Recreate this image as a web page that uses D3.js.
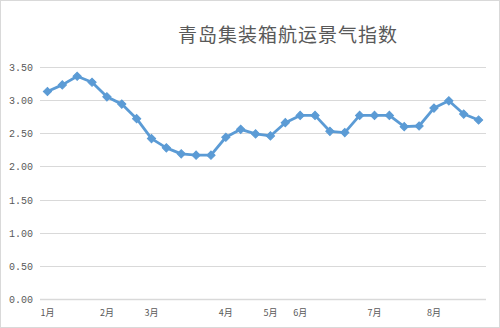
<!DOCTYPE html>
<html>
<head>
<meta charset="utf-8">
<script src="https://cdn.jsdelivr.net/npm/d3@7"></script>
<style>
  body { margin: 0; background: #fff; }
  svg { display: block; }
</style>
</head>
<body>
<div id="chart"></div>
<script>
// weekly index values, Jan - Aug
var values = [3.13, 3.23, 3.36, 3.27, 3.05, 2.94, 2.72, 2.42, 2.28, 2.19,
              2.17, 2.17, 2.44, 2.56, 2.49, 2.46, 2.66, 2.77, 2.77, 2.53,
              2.51, 2.77, 2.77, 2.77, 2.60, 2.61, 2.88, 2.99, 2.79, 2.70]

// category labels (only month starts are labelled)
var categories = ["1月", "", "", "", "2月", "", "", "3月", "", "", "", "", "4月", "", "", "5月",
                  "", "6月", "", "", "", "", "7月", "", "", "", "8月", "", "", ""]

var yTicks = [0, 0.5, 1, 1.5, 2, 2.5, 3, 3.5]
var title = "青岛集装箱航运景气指数"

var width = 500, height = 328
var margin = {top: 67, right: 14, bottom: 29, left: 40}

var svg = d3.select("#chart").append("svg")
    .attr("width", width)
    .attr("height", height)

// outer border
svg.append("rect")
    .attr("x", 0.5).attr("y", 0.5)
    .attr("width", width - 1).attr("height", height - 1)
    .attr("fill", "#fff")
    .attr("stroke", "#d9d9d9")

svg.append("text")
    .attr("x", 288)
    .attr("y", 42)
    .attr("text-anchor", "middle")
    .attr("fill", "#595959")
    .style("font-family", "'Noto Sans CJK SC', sans-serif")
    .style("font-size", "19px")
    .style("letter-spacing", "1px")
    .text(title)

var idx = values.map(function(d, i) { return i })

var x = d3.scaleBand()
    .domain(idx)
    .range([margin.left, width - margin.right])

var y = d3.scaleLinear()
    .domain([0, 3.5])
    .range([height - margin.bottom, margin.top])

// gridlines
svg.append("g")
    .selectAll("line")
    .data(yTicks)
    .enter()
    .append("line")
    .attr("x1", margin.left)
    .attr("x2", width - margin.right)
    .attr("y1", function(d) { return Math.round(y(d)) + 0.5 })
    .attr("y2", function(d) { return Math.round(y(d)) + 0.5 })
    .attr("stroke", "#d9d9d9")
    .attr("stroke-width", function(d) { return d === 0 ? 1.5 : 1 })

// y labels
svg.append("g")
    .selectAll("text")
    .data(yTicks)
    .enter()
    .append("text")
    .attr("x", 33)
    .attr("y", function(d) { return y(d) + 4 })
    .attr("text-anchor", "end")
    .attr("fill", "#595959")
    .style("font-family", "'Liberation Mono', monospace")
    .style("font-size", "10px")
    .text(function(d) { return d.toFixed(2) })

// x labels
svg.append("g")
    .selectAll("text")
    .data(idx.filter(function(i) { return categories[i] !== "" }))
    .enter()
    .append("text")
    .attr("x", function(i) { return x(i) + x.bandwidth() / 2 })
    .attr("y", 316)
    .attr("text-anchor", "middle")
    .attr("fill", "#595959")
    .style("font-family", "'Noto Sans CJK SC', sans-serif")
    .style("font-size", "9px")
    .text(function(i) { return categories[i] })

var line = d3.line()
    .x(function(d, i) { return x(i) + x.bandwidth() / 2 })
    .y(function(d) { return y(d) })

svg.append("path")
    .datum(values)
    .attr("d", line)
    .attr("fill", "none")
    .attr("stroke", "#5b9bd5")
    .attr("stroke-width", 2.8)
    .attr("stroke-linejoin", "round")

// diamond markers (square turned 45deg, as in Excel)
svg.append("g")
    .selectAll("path")
    .data(values)
    .enter()
    .append("path")
    .attr("d", d3.symbol().type(d3.symbolSquare).size(34))
    .attr("transform", function(d, i) {
        return "translate(" + (x(i) + x.bandwidth() / 2) + "," + y(d) + ") rotate(45)"
    })
    .attr("fill", "#5b9bd5")
    .attr("stroke", "#5b9bd5")
    .attr("stroke-width", 1)
</script>
</body>
</html>
